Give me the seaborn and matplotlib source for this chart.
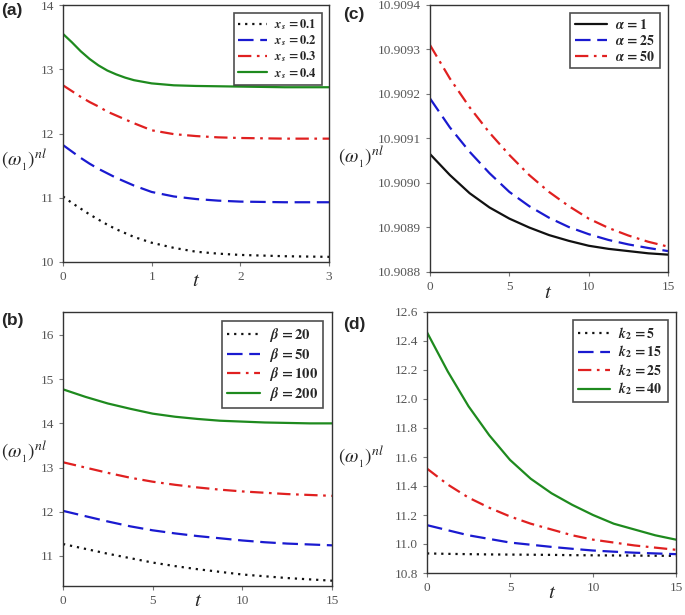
import pandas as pd
import seaborn as sns
import matplotlib.pyplot as plt
from matplotlib.ticker import MultipleLocator, FormatStrFormatter

# values
t_a = [0, 0.1, 0.2, 0.3, 0.4, 0.5, 0.6, 0.7, 0.8, 1.0, 1.25, 1.5, 1.75, 2.0, 2.5, 3.0]
a_xs01 = [11.02, 10.92, 10.83, 10.74, 10.66, 10.58, 10.51, 10.45, 10.39, 10.30, 10.22, 10.16, 10.13, 10.11, 10.09, 10.08]
a_xs02 = [11.82, 11.72, 11.62, 11.53, 11.45, 11.38, 11.31, 11.25, 11.19, 11.09, 11.02, 10.98, 10.955, 10.94, 10.93, 10.93]
a_xs03 = [12.75, 12.66, 12.57, 12.49, 12.42, 12.34, 12.28, 12.22, 12.16, 12.05, 11.99, 11.96, 11.94, 11.93, 11.92, 11.92]
a_xs04 = [13.55, 13.42, 13.28, 13.16, 13.06, 12.98, 12.92, 12.87, 12.83, 12.78, 12.75, 12.74, 12.735, 12.73, 12.72, 12.72]
a_labels = [r'$\mathbfit{x}_{\mathbfit{s}}\mathbf{\,=0.1}$', r'$\mathbfit{x}_{\mathbfit{s}}\mathbf{\,=0.2}$',
            r'$\mathbfit{x}_{\mathbfit{s}}\mathbf{\,=0.3}$', r'$\mathbfit{x}_{\mathbfit{s}}\mathbf{\,=0.4}$']

t_long = [0, 1.25, 2.5, 3.75, 5, 6.25, 7.5, 8.75, 10, 11.25, 12.5, 13.75, 15]
b_beta20 = [11.27, 11.16, 11.05, 10.95, 10.85, 10.77, 10.70, 10.64, 10.58, 10.54, 10.50, 10.47, 10.44]
b_beta50 = [12.02, 11.90, 11.78, 11.67, 11.58, 11.51, 11.45, 11.40, 11.35, 11.31, 11.28, 11.26, 11.24]
b_beta100 = [13.12, 13.00, 12.88, 12.77, 12.68, 12.61, 12.55, 12.50, 12.46, 12.43, 12.40, 12.38, 12.36]
b_beta200 = [14.77, 14.60, 14.45, 14.33, 14.22, 14.15, 14.10, 14.06, 14.04, 14.02, 14.01, 14.00, 14.00]
b_labels = [r'$\mathbfit{\beta}\mathbf{\,=20}$', r'$\mathbfit{\beta}\mathbf{\,=50}$',
            r'$\mathbfit{\beta}\mathbf{\,=100}$', r'$\mathbfit{\beta}\mathbf{\,=200}$']

c_alpha1 = [10.909065, 10.909018, 10.908977, 10.908945, 10.908920, 10.908900, 10.908883,
            10.908870, 10.908859, 10.908852, 10.908847, 10.908842, 10.908839]
c_alpha25 = [10.909190, 10.909125, 10.909070, 10.909022, 10.908980, 10.908948, 10.908922,
             10.908901, 10.908885, 10.908872, 10.908862, 10.908854, 10.908847]
c_alpha50 = [10.909310, 10.909235, 10.909170, 10.909113, 10.909063, 10.909018, 10.908980,
             10.908948, 10.908920, 10.908899, 10.908882, 10.908868, 10.908857]
c_labels = [r'$\mathbfit{\alpha}\mathbf{\,=1}$', r'$\mathbfit{\alpha}\mathbf{\,=25}$',
            r'$\mathbfit{\alpha}\mathbf{\,=50}$']

d_k5 = [10.935, 10.932, 10.930, 10.928, 10.927, 10.926, 10.925, 10.923, 10.922, 10.921, 10.920, 10.919, 10.918]
d_k15 = [11.13, 11.095, 11.06, 11.035, 11.01, 10.995, 10.98, 10.967, 10.955, 10.947, 10.94, 10.935, 10.93]
d_k25 = [11.52, 11.41, 11.32, 11.25, 11.19, 11.14, 11.10, 11.06, 11.03, 11.01, 10.99, 10.975, 10.96]
d_k40 = [12.46, 12.19, 11.95, 11.75, 11.58, 11.45, 11.35, 11.27, 11.20, 11.14, 11.10, 11.06, 11.03]
d_labels = [r'$\mathbfit{k}_{\mathbf{2}}\mathbf{\,=5}$', r'$\mathbfit{k}_{\mathbf{2}}\mathbf{\,=15}$',
            r'$\mathbfit{k}_{\mathbf{2}}\mathbf{\,=25}$', r'$\mathbfit{k}_{\mathbf{2}}\mathbf{\,=40}$']

sns.set_style('ticks')
plt.rcParams['font.family'] = ['Liberation Serif', 'DejaVu Serif']
plt.rcParams['mathtext.fontset'] = 'stix'

BLACK, BLUE, RED, GREEN = '#111111', '#1a1ad0', '#e02020', '#1e8a1e'
styles = {
    'dot': dict(color=BLACK, dashes=(1, 2.2), lw=1.6),
    'dash': dict(color=BLUE, dashes=(7, 3), lw=1.6),
    'dashdot': dict(color=RED, dashes=(6, 2.5, 1.2, 2.5), lw=1.6),
    'solid': dict(color=GREEN, lw=1.6),
}

W, H = 685, 615
fig = plt.figure(figsize=(W / 100, H / 100), dpi=100)


def add_axes(left, right, top, bottom):
    return fig.add_axes([left / W, 1 - bottom / H, (right - left) / W, (bottom - top) / H])


def draw(ax, t, series, labels, kinds, legsize):
    for y, lab, kind in zip(series, labels, kinds):
        df = pd.DataFrame({'t': t, 'w': y})
        st = styles[kind]
        sns.lineplot(data=df, x='t', y='w', ax=ax, label=lab, color=st['color'], lw=st['lw'])
        ln = ax.get_lines()[-1]
        if 'dashes' in st:
            ln.set_dashes(st['dashes'])
    leg = ax.legend(loc='upper right', frameon=True, fancybox=False, edgecolor='#222222',
                    fontsize=legsize, handlelength=2.3, borderpad=0.35, labelspacing=0.12,
                    handletextpad=0.6, borderaxespad=0.6)
    leg.get_frame().set_linewidth(1.2)
    for s in ax.spines.values():
        s.set_visible(True)
        s.set_color('#333333')
        s.set_linewidth(1.0)
    ax.tick_params(labelsize=9.5, labelcolor='#555555', color='#777777', length=3, width=0.8)
    ax.set_xlabel('')
    ax.set_ylabel('')
    ax.set_facecolor('white')


ax_a = add_axes(63, 329, 5, 262)
draw(ax_a, t_a, [a_xs01, a_xs02, a_xs03, a_xs04], a_labels, ['dot', 'dash', 'dashdot', 'solid'], 9)
ax_a.set_xlim(0, 3)
ax_a.set_ylim(10, 14)
ax_a.xaxis.set_major_locator(MultipleLocator(1))
ax_a.yaxis.set_major_locator(MultipleLocator(1))

ax_b = add_axes(63, 332, 312, 586)
draw(ax_b, t_long, [b_beta20, b_beta50, b_beta100, b_beta200], b_labels, ['dot', 'dash', 'dashdot', 'solid'], 10.5)
ax_b.set_xlim(0, 15)
ax_b.set_ylim(10.32, 16.52)
ax_b.xaxis.set_major_locator(MultipleLocator(5))
ax_b.yaxis.set_major_locator(MultipleLocator(1))

ax_c = add_axes(430, 668, 5, 272)
draw(ax_c, t_long, [c_alpha1, c_alpha25, c_alpha50], c_labels, ['solid', 'dash', 'dashdot'], 10)
ax_c.get_lines()[0].set_color(BLACK)
ax_c.get_legend().legend_handles[0].set_color(BLACK)
ax_c.set_xlim(0, 15)
ax_c.set_ylim(10.9088, 10.9094)
ax_c.xaxis.set_major_locator(MultipleLocator(5))
ax_c.yaxis.set_major_locator(MultipleLocator(0.0001))
ax_c.yaxis.set_major_formatter(FormatStrFormatter('%.4f'))

ax_d = add_axes(427, 676, 312, 573)
draw(ax_d, t_long, [d_k5, d_k15, d_k25, d_k40], d_labels, ['dot', 'dash', 'dashdot', 'solid'], 10)
ax_d.set_xlim(0, 15)
ax_d.set_ylim(10.8, 12.6)
ax_d.xaxis.set_major_locator(MultipleLocator(5))
ax_d.yaxis.set_major_locator(MultipleLocator(0.2))
ax_d.yaxis.set_major_formatter(FormatStrFormatter('%.1f'))

ylab = r'$\left(\omega_{_1}\right)^{nl}$'
for lx, ly, tx, ty in [(24, 160, 196, 282), (361, 157, 548, 294),
                       (24, 452, 198, 602), (361, 457, 552, 594)]:
    fig.text(lx / W, 1 - ly / H, ylab, fontsize=14, ha='center', va='center')
    fig.text(tx / W, 1 - ty / H, r'$t$', fontsize=15, ha='center', va='center')

for lab, x, y in [('(a)', 1, 11), ('(c)', 343, 15), ('(b)', 1, 320), ('(d)', 343, 325)]:
    fig.text(x / W, 1 - y / H, lab, fontsize=12.5, fontweight='bold', family='Liberation Sans',
             ha='left', va='center')

fig.savefig('out.png', dpi=100, facecolor='white')
